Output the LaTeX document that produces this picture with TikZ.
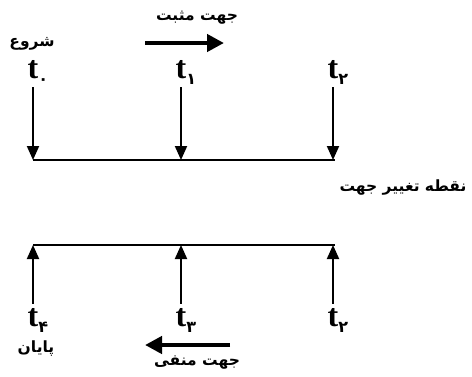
\documentclass[tikz,border=0pt]{standalone}
\usepackage{fontspec}
\setmainfont{Liberation Serif}
\newfontfamily\fafont[Script=Arabic]{DejaVu Sans}
\TeXXeTstate=1
\usetikzlibrary{arrows.meta, positioning}

\newcommand{\tlab}[1]{\textbf{t}\rlap{\raisebox{-6pt}{\fafont\bfseries\fontsize{16}{16}\selectfont #1}}}
\newcommand{\fatext}[1]{{\fafont\bfseries\beginR #1\endR}}

\begin{document}
\begin{tikzpicture}[x=1pt, y=-1pt,
    tname/.style={font=\fontsize{32}{32}\selectfont, inner sep=0pt},
    fa/.style={font=\fontsize{15.5}{17}\selectfont, inner sep=1pt},
    tick/.style={line width=2pt, -{Triangle[length=14pt, width=12pt]}},
    axis/.style={line width=2pt},
    dir/.style={line width=4.5pt, -{Triangle[length=17pt, width=17pt]}}]
        \useasboundingbox (0,0) rectangle (472,376);

        % top row
        \node[tname] (t0) at (33,72) {\tlab{۰}};
        \node[tname] (t1) at (181,72) {\tlab{۱}};
        \node[tname] (t2) at (333,72) {\tlab{۲}};
        \coordinate (topL) at (33,160);
        \coordinate (topR) at (335,160);
        \draw[axis] (topL) -- (topR);
        \draw[tick] ([yshift=-3pt]t0.south) -- (t0 |- topL);
        \draw[tick] ([yshift=-3pt]t1.south) -- (t1 |- topL);
        \draw[tick] ([yshift=-3pt]t2.south) -- (t2 |- topL);

        \node[fa] (start) at (32,44) {\fatext{شروع}};
        \node[fa] (pos) at (197,18) {\fatext{جهت مثبت}};
        \coordinate (posA) at (145,43);
        \coordinate (posB) at (224,43);
        \draw[dir] (posA) -- (posB);

        \node[fa] (turn) at (403,188) {\fatext{نقطه تغییر جهت}};

        % bottom row
        \coordinate (botL) at (33,245);
        \coordinate (botR) at (335,245);
        \draw[axis] (botL) -- (botR);
        \node[tname] (b4) at (33,320) {\tlab{۴}};
        \node[tname] (b3) at (181,320) {\tlab{۳}};
        \node[tname] (b2) at (333,320) {\tlab{۲}};
        \draw[tick] ([yshift=4pt]b4.north) -- (b4 |- botL);
        \draw[tick] ([yshift=4pt]b3.north) -- (b3 |- botL);
        \draw[tick] ([yshift=4pt]b2.north) -- (b2 |- botL);

        \node[fa] (finish) at (36,348) {\fatext{پایان}};
        \node[fa] (neg) at (197,363) {\fatext{جهت منفی}};
        \coordinate (negA) at (230,345);
        \coordinate (negB) at (145,345);
        \draw[dir] (negA) -- (negB);
\end{tikzpicture}
\end{document}
